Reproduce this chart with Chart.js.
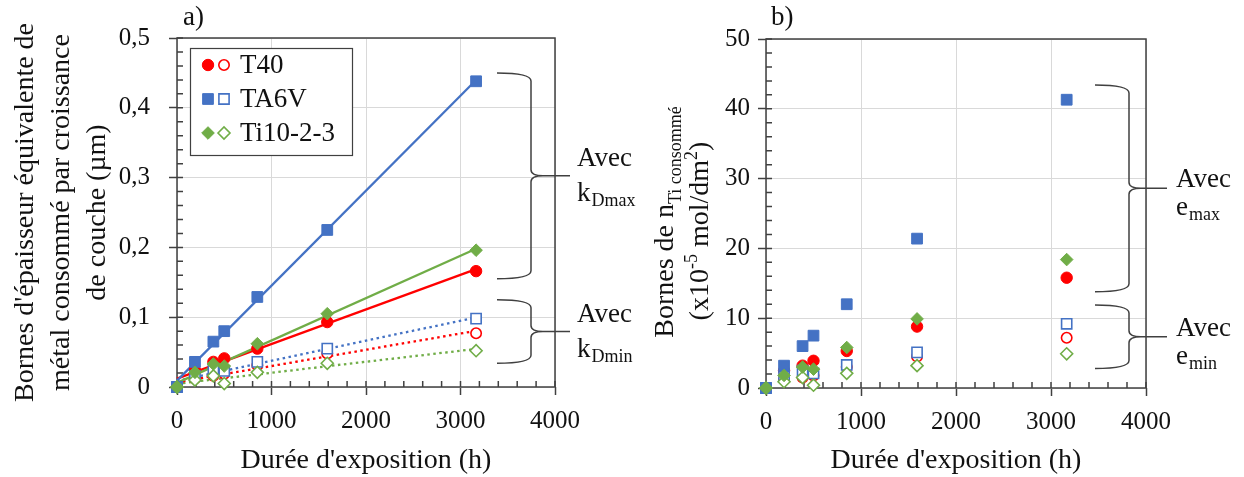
<!DOCTYPE html>
<html>
<head>
<meta charset="utf-8">
<script src="https://cdn.jsdelivr.net/npm/chart.js@4.4.0/dist/chart.umd.min.js"></script>
<style>
body { margin: 0; background: #fff; }
#wrap { position: relative; width: 1244px; height: 477px; }
canvas { position: absolute; top: 0; }
#chartA { left: 0; }
#chartB { left: 622px; }
</style>
</head>
<body>
<div id="wrap">
    <canvas id="chartA" width="660" height="477"></canvas>
    <canvas id="chartB" width="622" height="477"></canvas>
</div>
<script>
/* DATA */

const hours = [0, 190, 385, 500, 850, 1590, 3165];
const xTickLabels = ['0', '1000', '2000', '3000', '4000'];
const yTickLabelsA = ['0', '0,1', '0,2', '0,3', '0,4', '0,5'];
const yTickLabelsB = ['0', '10', '20', '30', '40', '50'];
const alloys = ['T40', 'TA6V', 'Ti10-2-3'];

// a) épaisseur de métal consommé (µm), borne haute (kDmax) / basse (kDmin)
const t40MaxA = [0, 0.024, 0.036, 0.041, 0.055, 0.093, 0.166];
const t40MinA = [0, 0.012, 0.016, 0.019, 0.031, 0.048, 0.077];
const ta6vMaxA = [0, 0.036, 0.065, 0.080, 0.129, 0.225, 0.438];
const ta6vMinA = [0, 0.016, 0.026, 0.023, 0.036, 0.055, 0.098];
const ti1023MaxA = [0, 0.021, 0.033, 0.030, 0.062, 0.105, 0.196];
const ti1023MinA = [0, 0.010, 0.016, 0.005, 0.021, 0.034, 0.052];

// b) n Ti consommé (x10^-5 mol/dm²), borne haute (emax) / basse (emin)
const t40MaxB = [0, 2.5, 3.2, 3.9, 5.3, 8.8, 15.8];
const t40MinB = [0, 1.2, 1.5, 1.8, 3.0, 4.5, 7.2];
const ta6vMaxB = [0, 3.2, 6.0, 7.5, 12.0, 21.4, 41.3];
const ta6vMinB = [0, 1.6, 2.5, 2.1, 3.3, 5.1, 9.2];
const ti1023MaxB = [0, 1.8, 3.0, 2.7, 5.8, 9.9, 18.4];
const ti1023MinB = [0, 0.9, 1.5, 0.4, 2.1, 3.2, 4.9];

const xTitle = "Durée d'exposition (h)";
const yTitleA = ["Bornes d'épaisseur équivalente de", 'métal consommé par croissance', 'de couche (µm)'];

/* STYLE */

const SERIF = "'Liberation Serif', 'Times New Roman', serif";
const INK = '#111111';
const AXIS = '#404040';
const GRID = '#d9d9d9';
const RED = '#ff0000', BLUE = '#4472c4', GREEN = '#70ad47';
const styles = [
    { color: RED, shape: 'circle', r: 5.7, rOpen: 5.2 },
    { color: BLUE, shape: 'rect', r: 7.6, rOpen: 7.2 },
    { color: GREEN, shape: 'rectRot', r: 6.3, rOpen: 6 }
];

Chart.defaults.font.family = SERIF;
Chart.defaults.color = INK;

function pts(ys) {
    return hours.map((x, i) => ({ x: x, y: ys[i] }));
}

function markers(ys, st, filled) {
    const r = filled ? st.r : st.rOpen;
    return {
        data: pts(ys), showLine: false, order: 0, clip: false,
        pointStyle: st.shape, pointRadius: r, pointHoverRadius: r,
        pointBackgroundColor: filled ? st.color : '#ffffff',
        pointBorderColor: st.color,
        pointBorderWidth: filled ? 1 : 1.6
    };
}

// droite de tendance (moindres carrés) sur les points
function trend(ys, color, dash) {
    const n = hours.length;
    const mx = hours.reduce((s, v) => s + v, 0) / n;
    const my = ys.reduce((s, v) => s + v, 0) / n;
    let sxy = 0, sxx = 0;
    hours.forEach((x, i) => {
        sxy += (x - mx) * (ys[i] - my);
        sxx += (x - mx) * (x - mx);
    });
    const b = sxy / sxx, a = my - b * mx;
    const x0 = hours[0], x1 = hours[n - 1];
    return {
        data: [{ x: x0, y: a + b * x0 }, { x: x1, y: a + b * x1 }],
        showLine: true, pointRadius: 0, order: 1, clip: false,
        borderColor: color, borderWidth: 2.3, borderDash: dash, borderCapStyle: 'butt'
    };
}

function scales(yMax, yStep, yLabels, yWidth, yPad, xHeight) {
    const grid = { color: GRID, lineWidth: 1, tickLength: 8, tickColor: AXIS, tickWidth: 1.5 };
    return {
        x: {
            type: 'linear', min: 0, max: 4000,
            ticks: { stepSize: 1000, padding: 11, color: INK, font: { size: 25 }, maxRotation: 0, autoSkip: false,
                callback: (v, i) => xTickLabels[i] },
            grid: grid, border: { display: false },
            afterFit: (s) => { s.height = xHeight; }
        },
        y: {
            type: 'linear', min: 0, max: yMax,
            ticks: { stepSize: yStep, padding: yPad, color: INK, font: { size: 25 },
                callback: (v, i) => yLabels[i] },
            grid: grid, border: { display: false },
            afterFit: (s) => { s.width = yWidth; }
        }
    };
}

/* PLUGINS */

function framePlugin(minorX, minorY) {
    return {
        id: 'frame',
        beforeDatasetsDraw(chart) {
            const { ctx, chartArea: a, scales: { x, y } } = chart;
            ctx.save();
            ctx.strokeStyle = AXIS;
            ctx.lineWidth = 1.5;
            ctx.strokeRect(a.left, a.top, a.right - a.left, a.bottom - a.top);
            ctx.beginPath();
            for (let k = 0; k * minorX <= x.max + 1e-9; k++) {
                const px = x.getPixelForValue(k * minorX);
                ctx.moveTo(px, a.bottom);
                ctx.lineTo(px, a.bottom - 6);
            }
            for (let k = 0; k * minorY <= y.max + 1e-9; k++) {
                const py = y.getPixelForValue(k * minorY);
                ctx.moveTo(a.left, py);
                ctx.lineTo(a.left + 6, py);
            }
            ctx.stroke();
            ctx.restore();
        }
    };
}

function textRuns(ctx, parts, x, y) {
    let w = 0;
    parts.forEach((p) => {
        ctx.font = p[1] + 'px ' + SERIF;
        p.w = ctx.measureText(p[0]).width;
        w += p.w;
    });
    let cx = x - w / 2;
    ctx.textAlign = 'left';
    parts.forEach((p) => {
        ctx.font = p[1] + 'px ' + SERIF;
        ctx.fillText(p[0], cx, y + p[2]);
        cx += p.w;
    });
}

function brace(ctx, xStart, xBar, xTip, yTop, yBot) {
    const yMid = (yTop + yBot) / 2;
    ctx.beginPath();
    ctx.moveTo(xStart, yTop);
    ctx.quadraticCurveTo(xBar, yTop, xBar, yTop + 8);
    ctx.lineTo(xBar, yMid - 6);
    ctx.quadraticCurveTo(xBar, yMid, xBar + 12, yMid);
    ctx.lineTo(xTip, yMid);
    ctx.moveTo(xBar + 12, yMid);
    ctx.quadraticCurveTo(xBar, yMid, xBar, yMid + 6);
    ctx.lineTo(xBar, yBot - 8);
    ctx.quadraticCurveTo(xBar, yBot, xStart, yBot);
    ctx.stroke();
}

function drawMarker(ctx, st, x, y, filled) {
    const r = filled ? st.r : st.rOpen;
    ctx.beginPath();
    if (st.shape === 'circle') {
        ctx.arc(x, y, r, 0, Math.PI * 2);
    } else if (st.shape === 'rect') {
        const s = r * Math.SQRT1_2;
        ctx.rect(x - s, y - s, 2 * s, 2 * s);
    } else {
        ctx.moveTo(x - r, y); ctx.lineTo(x, y - r); ctx.lineTo(x + r, y); ctx.lineTo(x, y + r);
        ctx.closePath();
    }
    ctx.fillStyle = filled ? st.color : '#ffffff';
    ctx.fill();
    ctx.lineWidth = filled ? 1 : 1.6;
    ctx.strokeStyle = st.color;
    ctx.stroke();
}

// accolades + "Avec ..." à droite du graphe
function drawBraces(ctx, a, y, b) {
    ctx.save();
    ctx.strokeStyle = AXIS;
    ctx.lineWidth = 1.5;
    b.groups.forEach((g) => {
        const yTop = y.getPixelForValue(g.from), yBot = y.getPixelForValue(g.to);
        const yMid = (yTop + yBot) / 2;
        brace(ctx, a.right + b.start, a.right + b.bar, a.right + b.tip, yTop, yBot);
        ctx.fillStyle = INK;
        ctx.textAlign = 'left';
        ctx.font = '27px ' + SERIF;
        ctx.fillText('Avec', a.right + b.text, yMid + b.dyAvec);
        ctx.fillText(b.sym, a.right + b.text, yMid + b.dySym);
        const w = ctx.measureText(b.sym).width;
        ctx.font = '18px ' + SERIF;
        ctx.fillText(g.sub, a.right + b.text + w + 1, yMid + b.dySym + 5);
    });
    ctx.restore();
}

const notesA = {
    id: 'notesA',
    afterDraw(chart) {
        const { ctx, chartArea: a, scales: { y } } = chart;
        ctx.save();
        ctx.fillStyle = INK;
        ctx.textBaseline = 'alphabetic';
        ctx.textAlign = 'left';
        ctx.font = '27px ' + SERIF;
        ctx.fillText('a)', a.left + 6, 25);
        ctx.textAlign = 'center';
        ctx.font = '28px ' + SERIF;
        ctx.fillText(xTitle, (a.left + a.right) / 2, 468);
        const cy = (a.top + a.bottom) / 2;
        [33, 69, 105].forEach((bx, i) => {
            ctx.save();
            ctx.translate(bx, cy);
            ctx.rotate(-Math.PI / 2);
            ctx.fillText(yTitleA[i], 0, 0);
            ctx.restore();
        });

        // légende
        const lx = a.left + 13, ly = a.top + 10;
        ctx.fillStyle = '#ffffff';
        ctx.fillRect(lx, ly, 162, 107);
        ctx.strokeStyle = AXIS;
        ctx.lineWidth = 1.2;
        ctx.strokeRect(lx + 0.5, ly + 0.5, 162, 107);
        alloys.forEach((name, i) => {
            const ry = ly + 17 + i * 34;
            drawMarker(ctx, styles[i], lx + 18, ry, true);
            drawMarker(ctx, styles[i], lx + 34, ry, false);
            ctx.fillStyle = INK;
            ctx.textAlign = 'left';
            ctx.font = '27px ' + SERIF;
            ctx.fillText(name, lx + 50, ry + 8);
        });
        ctx.restore();

        drawBraces(ctx, a, y, {
            start: -58, bar: -24, tip: 15, text: 22, dyAvec: -10, dySym: 25, sym: 'k',
            groups: [{ from: 0.45, to: 0.155, sub: 'Dmax' }, { from: 0.125, to: 0.034, sub: 'Dmin' }]
        });
    }
};

const notesB = {
    id: 'notesB',
    afterDraw(chart) {
        const { ctx, chartArea: a, scales: { y } } = chart;
        ctx.save();
        ctx.fillStyle = INK;
        ctx.textBaseline = 'alphabetic';
        ctx.textAlign = 'left';
        ctx.font = '27px ' + SERIF;
        ctx.fillText('b)', a.left + 5, 25);
        ctx.textAlign = 'center';
        ctx.font = '28px ' + SERIF;
        ctx.fillText(xTitle, (a.left + a.right) / 2, 468);

        ctx.save();
        ctx.translate(51, 222);
        ctx.rotate(-Math.PI / 2);
        textRuns(ctx, [['Bornes de n', 28, 0], ['Ti consommé', 18, 8]], 0, 0);
        ctx.restore();
        ctx.save();
        ctx.translate(86, 231);
        ctx.rotate(-Math.PI / 2);
        textRuns(ctx, [['(x10', 28, 0], ['-5', 18, -11], [' mol/dm', 28, 0], ['2', 18, -11], [')', 28, 0]], 0, 0);
        ctx.restore();
        ctx.restore();

        drawBraces(ctx, a, y, {
            start: -51, bar: -17, tip: 21, text: 30, dyAvec: -1, dySym: 27, sym: 'e',
            groups: [{ from: 43.4, to: 13.8, sub: 'max' }, { from: 11.9, to: 2.8, sub: 'min' }]
        });
    }
};

/* CHARTS */

new Chart(document.getElementById('chartA'), {
    type: 'scatter',
    data: {
        datasets: [
            markers(ti1023MaxA, styles[2], true),
            markers(ti1023MinA, styles[2], false),
            markers(ta6vMaxA, styles[1], true),
            markers(ta6vMinA, styles[1], false),
            markers(t40MaxA, styles[0], true),
            markers(t40MinA, styles[0], false),
            trend(ta6vMaxA, BLUE, []),
            trend(ti1023MaxA, GREEN, []),
            trend(t40MaxA, RED, []),
            trend(ta6vMinA, BLUE, [2.5, 3.5]),
            trend(t40MinA, RED, [2.5, 3.5]),
            trend(ti1023MinA, GREEN, [2.5, 3.5])
        ]
    },
    options: {
        responsive: false,
        animation: false,
        layout: { padding: { top: 38, right: 105, left: 0, bottom: 0 } },
        scales: scales(0.5, 0.1, yTickLabelsA, 177, 19, 90),
        plugins: { legend: { display: false }, tooltip: { enabled: false } }
    },
    plugins: [framePlugin(200, 0.02), notesA]
});

new Chart(document.getElementById('chartB'), {
    type: 'scatter',
    data: {
        datasets: [
            markers(ti1023MaxB, styles[2], true),
            markers(ti1023MinB, styles[2], false),
            markers(ta6vMaxB, styles[1], true),
            markers(ta6vMinB, styles[1], false),
            markers(t40MaxB, styles[0], true),
            markers(t40MinB, styles[0], false)
        ]
    },
    options: {
        responsive: false,
        animation: false,
        layout: { padding: { top: 39, right: 98, left: 0, bottom: 0 } },
        scales: scales(50, 10, yTickLabelsB, 144, 8, 89),
        plugins: { legend: { display: false }, tooltip: { enabled: false } }
    },
    plugins: [framePlugin(200, 2), notesB]
});
</script>
</body>
</html>
